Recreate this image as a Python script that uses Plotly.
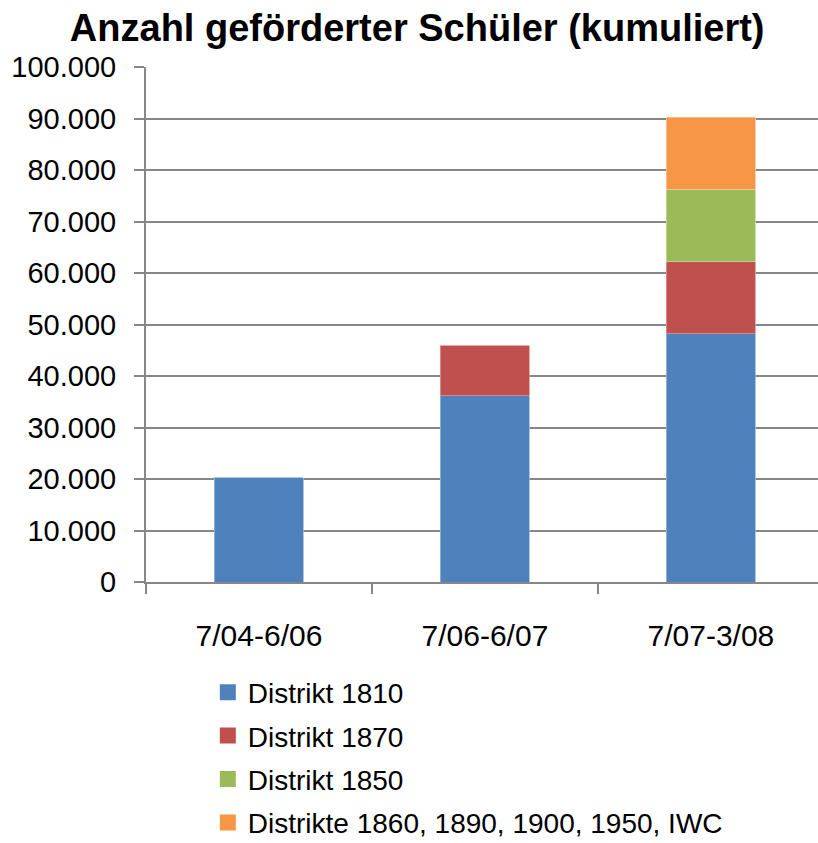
import plotly.graph_objects as go

categories = ["7/04-6/06", "7/06-6/07", "7/07-3/08"]
series_names = ["Distrikt 1810", "Distrikt 1870", "Distrikt 1850",
                "Distrikte 1860, 1890, 1900, 1950, IWC"]
distrikt_1810 = [20200, 36200, 48200]
distrikt_1870 = [None, 9700, 14000]
distrikt_1850 = [None, None, 14100]
distrikte_rest = [None, None, 13900]
series_values = [distrikt_1810, distrikt_1870, distrikt_1850, distrikte_rest]
colors = ["#4F81BD", "#C0504D", "#9BBB59", "#F79646"]
edge_colors = ["#9DB6DA", "#DC9896", "#C6D9A2", "#FAC49A"]

FONT = "Liberation Sans, Arial, sans-serif"
GRID = "#878787"

fig = go.Figure()
for name, vals, c, ec in zip(series_names, series_values, colors, edge_colors):
    fig.add_trace(go.Bar(
        x=categories, y=vals, name=name, marker=dict(color=c, line=dict(color=ec, width=0.8)),
        width=0.394, showlegend=False, hoverinfo="x+y+name"))
for i, (name, c) in enumerate(zip(series_names, colors)):
    fig.add_trace(go.Scatter(
        x=[None], y=[None], mode="markers", name=name, legendgroup=f"g{i}",
        marker=dict(symbol="square", size=17, color=c)))

fig.update_layout(
    width=818, height=843,
    margin=dict(l=146, r=0, t=67, b=261, autoexpand=False),
    paper_bgcolor="white", plot_bgcolor="white",
    barmode="stack",
    separators=",.",
    font=dict(family=FONT, size=28, color="black"),
    title=dict(text="<b>Anzahl geförderter Schüler (kumuliert)</b>",
               font=dict(family=FONT, size=38, color="black"),
               x=0.51, xref="container", xanchor="center",
               y=0.967, yref="container", yanchor="middle"),
    xaxis=dict(range=[-0.5, 2.474], showline=True, linecolor=GRID, linewidth=2,
               ticks="outside", tickson="boundaries", ticklen=10, tickcolor=GRID, tickwidth=2,
               showgrid=False, tickfont=dict(size=30, family=FONT), ticklabelstandoff=26,
               fixedrange=True, automargin=False),
    yaxis=dict(range=[0, 100000], dtick=10000, tickformat=",d", showline=True,
               linecolor=GRID, linewidth=2, showgrid=True, gridcolor=GRID, gridwidth=2,
               ticks="outside", ticklen=10, tickcolor=GRID, tickwidth=2, zeroline=False,
               tickfont=dict(size=29, family=FONT), ticklabelstandoff=12, fixedrange=True,
               automargin=False),
    legend=dict(x=0.092, xanchor="left", y=-0.166, yanchor="top", orientation="v",
                traceorder="grouped", tracegroupgap=4, font=dict(size=28, family=FONT),
                bgcolor="rgba(0,0,0,0)"),
)

fig.write_html("out.html", config={"displayModeBar": False},
               post_script="document.body.style.margin='0';")
